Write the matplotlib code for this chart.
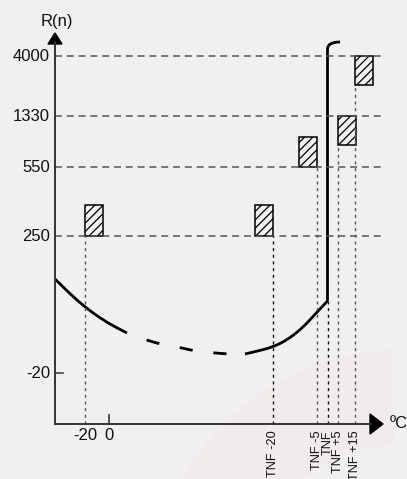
import matplotlib.pyplot as plt
import matplotlib.patches as mpatches
from matplotlib.path import Path

plt.rcParams['font.family'] = ['Liberation Sans', 'DejaVu Sans']
plt.rcParams['lines.scale_dashes'] = False
plt.rcParams['hatch.linewidth'] = 0.9

# schematic levels of the R(n) axis (not to scale)
y_labels = ['4000', '1330', '550', '250', '-20']
y_levels = [368, 308, 257, 188, 51]

# temperature positions on the x axis (schematic)
x_labels = ['-20', '0']
x_pos = [30, 54]
tnf_labels = ['TNF -20', 'TNF -5', 'TNF', 'TNF +5', 'TNF +15']
tnf_pos = [218, 262, 272.5, 283, 300]

# hatched bands: (x left, x right, y bottom, y top)
bands = [
    (30, 48, 188, 219),
    (200, 218, 188, 219),
    (244, 262, 257, 287),
    (283, 301, 279, 308),
    (300, 318, 339, 368),
]

# guide line tops (dotted verticals)
guide_x = [30, 218, 262, 272.5, 283, 300]
guide_top = [188, 188, 257, 123, 279, 339]

# R(n) curve
curve_left_x = [0, 15, 30, 45, 60, 72]
curve_left_y = [145, 130, 117, 106, 97, 91]
curve_mid_x = [72, 85, 95, 105, 117, 127, 140, 150, 160, 174, 182, 190]
curve_mid_y = [91, 86, 83, 80, 78, 76, 73, 72, 71, 70, 70, 70]
curve_right_x = [190, 203, 218, 232, 245, 254, 263, 272.5]
curve_right_y = [70, 73, 77, 84, 94, 103, 113, 123]
jump_x = [272.5, 272.5, 272.5, 285]
jump_y = [123, 368, 382, 382]


def smooth_path(xs, ys):
    # quadratic bezier through midpoints, keeps ends fixed
    pts = list(zip(xs, ys))
    if len(pts) < 3:
        return Path(pts)
    verts = [pts[0]]
    codes = [Path.MOVETO]
    for i in range(1, len(pts) - 1):
        mid = ((pts[i][0] + pts[i + 1][0]) / 2, (pts[i][1] + pts[i + 1][1]) / 2)
        if i == len(pts) - 2:
            mid = pts[-1]
        verts += [pts[i], mid]
        codes += [Path.CURVE3, Path.CURVE3]
    return Path(verts, codes)


bg = '#f0f0f0'
fig = plt.figure(figsize=(4.07, 4.79), dpi=100, facecolor=bg)
ax = fig.add_axes([0, 0, 1, 1])
ax.set_facecolor(bg)
ax.set_xlim(-55, 352)
ax.set_ylim(-55, 424)
ax.axis('off')

# faint watermark in the background
ax.add_patch(mpatches.Wedge((345, -176), 250, 92, 172, width=95,
                            color='#f2ebec', lw=0, zorder=0))

# horizontal dashed grid
for lv in y_levels[:4]:
    ax.plot([0, 328], [lv, lv], color='#555555', lw=1.1, ls=(0, (5, 3.5)))
ax.plot([0, 8], [y_levels[4], y_levels[4]], color='#333333', lw=1.1)
for lab, lv in zip(y_labels, y_levels):
    ax.text(-5, lv, lab, ha='right', va='center', fontsize=12, color='#111111')

# dotted verticals
for i, (gx, gt) in enumerate(zip(guide_x, guide_top)):
    col = '#111111' if i in (1, 3) else '#555555'
    ax.plot([gx, gx], [0, gt], color=col, lw=1.0, ls=(0, (2.2, 2.6)))

# hatched bands
for x0, x1, y0, y1 in bands:
    ax.add_patch(mpatches.Rectangle((x0, y0), x1 - x0, y1 - y0, facecolor=bg,
                                    edgecolor='#000000', hatch='////', lw=1.1))

# axes with arrows
ax.plot([0, 0], [0, 382], color='#333333', lw=1.4)
ax.plot([0, 316], [0, 0], color='#333333', lw=1.4)
ax.add_patch(mpatches.Polygon([[-7, 380], [7, 380], [0, 391]], closed=True,
                              color='black'))
ax.add_patch(mpatches.Polygon([[315, -10], [315, 10], [328, 0]], closed=True,
                              color='black'))
ax.plot([x_pos[1], x_pos[1]], [0, 9], color='#333333', lw=1.2)

ax.text(2, 403, 'R(n)', ha='center', va='center', fontsize=12, color='#111111')
ax.text(335, 0, 'ºC', ha='left', va='center', fontsize=12, color='#111111')

for lab, xp in zip(x_labels, x_pos):
    ax.text(xp, -4, lab, ha='center', va='top', fontsize=12, color='#111111')
for lab, xp in zip(tnf_labels, tnf_pos):
    ax.text(xp, -6, lab, ha='center', va='top', rotation=90, fontsize=9.2,
            color='#111111')

# curve
ax.add_patch(mpatches.PathPatch(smooth_path(curve_left_x, curve_left_y),
                                fill=False, color='black', lw=2.0, capstyle='butt'))
ax.add_patch(mpatches.PathPatch(smooth_path(curve_mid_x, curve_mid_y),
                                fill=False, color='black', lw=2.0,
                                ls=(9.5, (9.5, 15.0)), capstyle='butt'))
ax.add_patch(mpatches.PathPatch(smooth_path(curve_right_x, curve_right_y),
                                fill=False, color='black', lw=2.0, capstyle='butt'))
ax.add_patch(mpatches.PathPatch(smooth_path(jump_x, jump_y), fill=False,
                                color='black', lw=2.0, capstyle='butt',
                                joinstyle='round'))

fig.savefig('out.png', dpi=100, facecolor=bg)
